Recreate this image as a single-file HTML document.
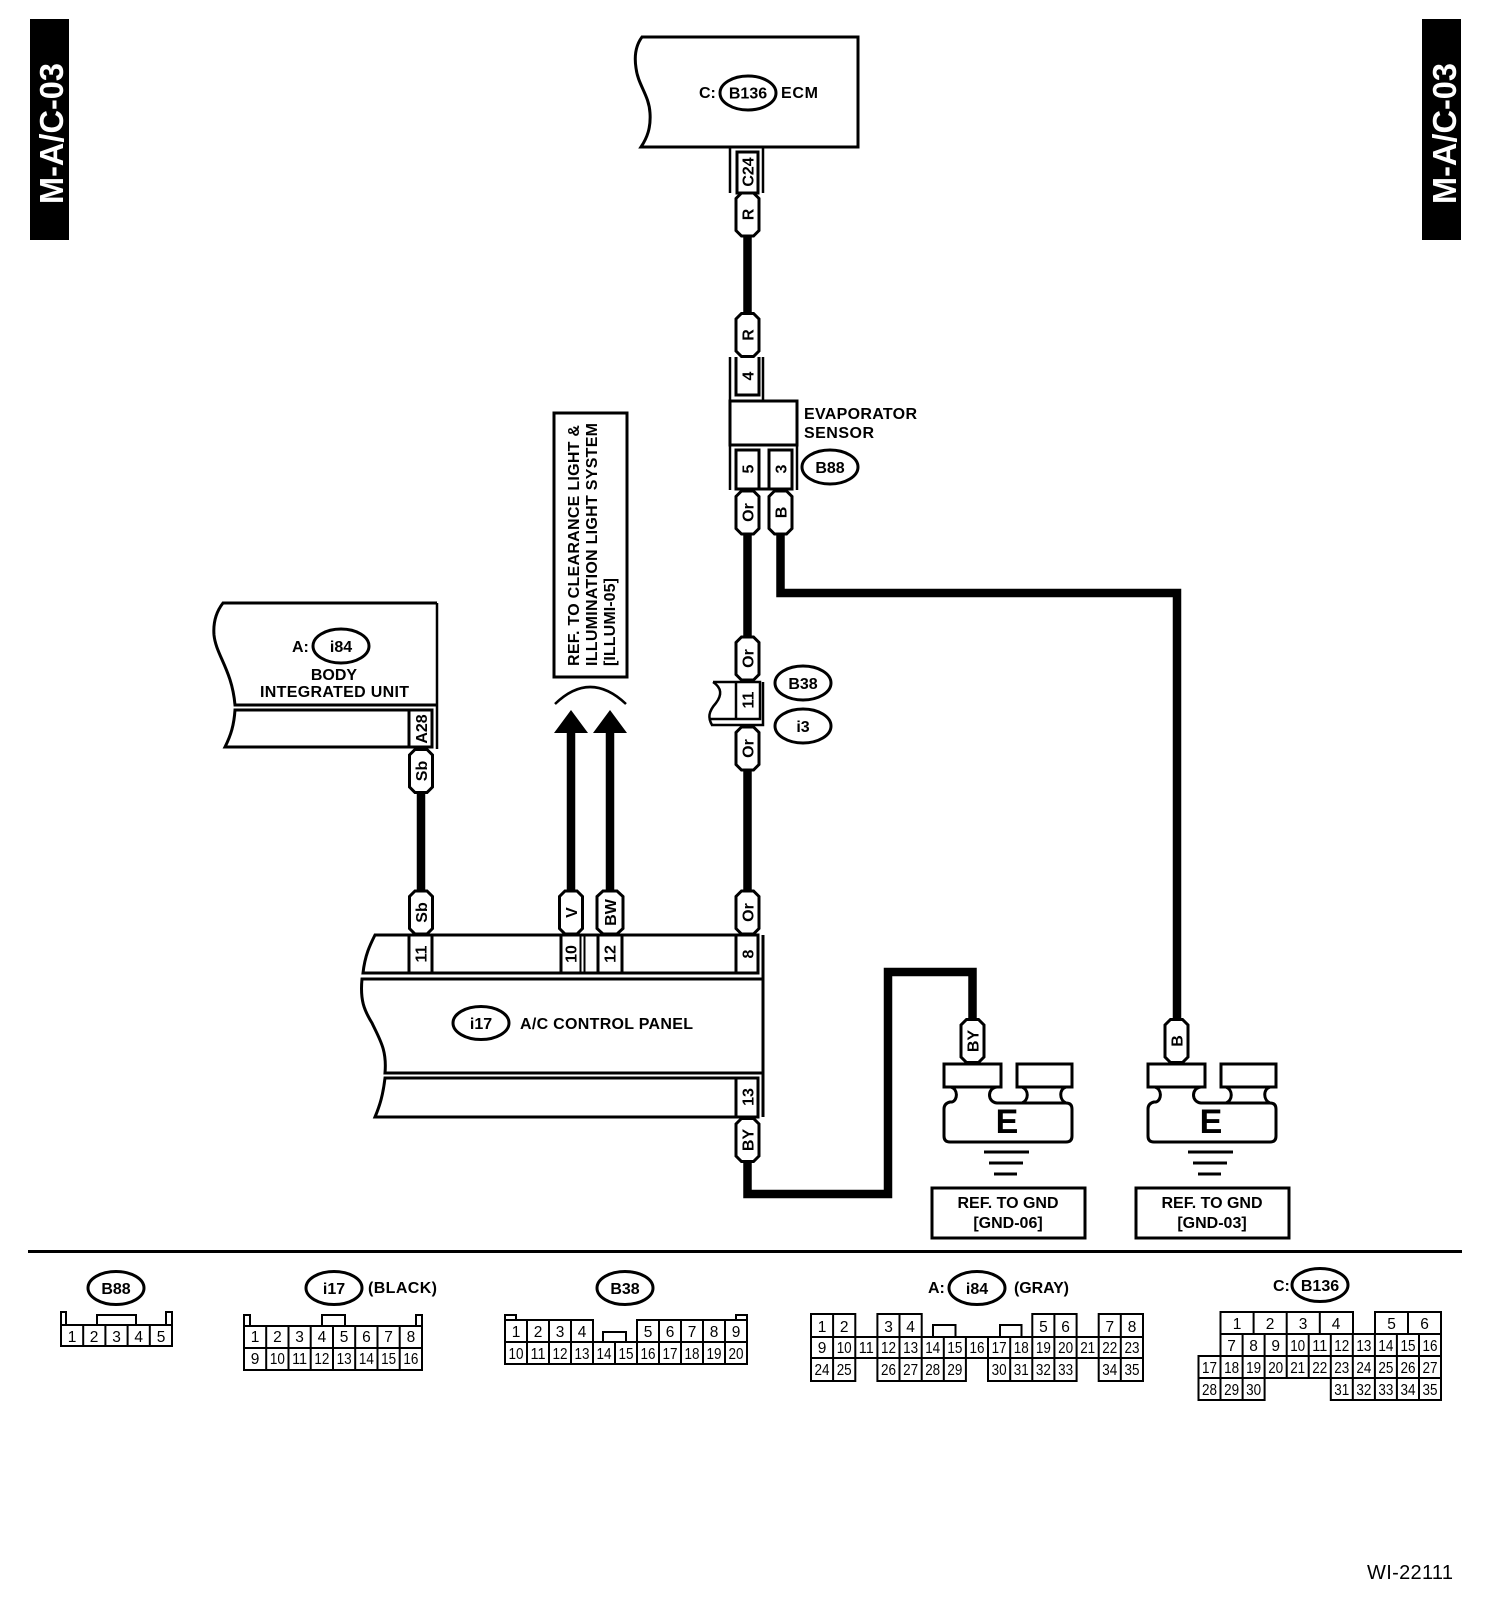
<!DOCTYPE html>
<html><head><meta charset="utf-8"><style>
html,body{margin:0;padding:0;background:#fff}
svg{display:block}
text{font-family:"Liberation Sans",Arial,sans-serif;font-weight:bold;font-size:16px;fill:#000;stroke:none}
.m{text-anchor:middle}
.d text{font-weight:normal;font-size:15.5px;text-anchor:middle}
.s{fill:none;stroke:#000;stroke-width:3}
.t{fill:none;stroke:#000;stroke-width:2.5}
.g{fill:none;stroke:#000;stroke-width:2}
.w{fill:none;stroke:#000;stroke-width:8.5;stroke-linejoin:miter}
.o{fill:#fff;stroke:#000;stroke-width:3}
</style></head><body>
<svg xmlns="http://www.w3.org/2000/svg" width="1504" height="1614" viewBox="0 0 1504 1614">
<rect width="1504" height="1614" fill="#fff"/>
<defs>
<path id="h" d="M-6-21.5H6L11.5-16V16L6 21.5H-6L-11.5 16V-16Z" fill="#fff" stroke="#000" stroke-width="3"/>
<path id="hw" d="M-7-21.5H7L13-16V16L7 21.5H-7L-13 16V-16Z" fill="#fff" stroke="#000" stroke-width="3"/>
<g id="gnd">
<rect x="944" y="1064" width="57" height="23" class="s"/>
<rect x="1017" y="1064" width="55" height="23" class="s"/>
<path class="s" d="M951 1087C958 1089 958 1100 952 1102H950C946 1103 944 1105 944 1109V1136C944 1140 946 1142 950 1142H1066C1070 1142 1072 1140 1072 1136V1109C1072 1105 1070 1103 1066 1103C1059 1100 1059 1089 1066 1087"/>
<path class="s" d="M997 1087C987 1088 987 1102 997 1103H1066M1022 1087C1029 1090 1029 1100 1022 1103"/>
<path class="s" d="M984 1152H1029M989 1163H1023M994 1174H1017"/>
<rect x="932" y="1188" width="153" height="50" class="s"/>
</g>
</defs>

<!-- side bars -->
<rect x="30" y="19" width="39" height="221" fill="#000"/>
<text transform="translate(63,204) rotate(-90)" style="font-size:33px;fill:#fff" textLength="141" lengthAdjust="spacingAndGlyphs">M-A/C-03</text>
<rect x="1422" y="19" width="39" height="221" fill="#000"/>
<text transform="translate(1456,204) rotate(-90)" style="font-size:33px;fill:#fff" textLength="141" lengthAdjust="spacingAndGlyphs">M-A/C-03</text>

<!-- wires -->
<path class="w" d="M747.5 236V314"/>
<path class="w" d="M747.5 534V638"/>
<path class="w" d="M747.5 770V890"/>
<path class="w" d="M780.5 534V593H1177V1020"/>
<path class="w" d="M421 793V890"/>
<path class="w" d="M571 733V890"/>
<path class="w" d="M610 733V890"/>
<path class="w" d="M747.5 1162V1194H888V972H972.5V1020"/>
<path d="M554 733L571 710L588 733ZM593 733L610 710L627 733Z" fill="#000"/>
<path d="M555 704Q590 670 626 704" fill="none" stroke="#000" stroke-width="2.5"/>

<!-- ECM -->
<path class="s" d="M642 37H858V147H641C647 138 651 128 650 113C649 95 638 85 636 68C634 55 636 45 642 37Z"/>
<ellipse cx="748" cy="93" rx="28" ry="17" class="o"/>
<text x="699" y="98">C:</text>
<text x="748" y="98.500" class="m">B136</text>
<text x="781" y="98" textLength="37">ECM</text>
<path class="t" d="M730 147V193M763 147V193"/>
<rect x="737" y="152" width="21" height="41" class="s"/>
<text class="m" transform="translate(753.500,172) rotate(-90)">C24</text>

<!-- evaporator sensor -->
<path class="t" d="M730 357V401M763 357V401"/>
<path class="s" d="M736 357V395H759V357"/>
<text class="m" transform="translate(753.500,376) rotate(-90)">4</text>
<rect x="730" y="401" width="67" height="44" class="s"/>
<path class="t" d="M730 445V490M797 445V490"/>
<path class="s" d="M736 450H759V489H736ZM769 450H792V489H769ZM759 489H769"/>
<text class="m" transform="translate(753.500,469) rotate(-90)">5</text>
<text class="m" transform="translate(786.500,469) rotate(-90)">3</text>
<text x="804" y="419" textLength="113">EVAPORATOR</text>
<text x="804" y="438" textLength="70">SENSOR</text>
<ellipse cx="830" cy="467" rx="28" ry="17" class="o"/>
<text x="830" y="473" class="m">B88</text>

<!-- illumination ref -->
<rect x="554" y="413" width="73" height="264" class="s"/>
<text transform="translate(579,666) rotate(-90)" textLength="241">REF. TO CLEARANCE LIGHT &amp;</text>
<text transform="translate(597,666) rotate(-90)" textLength="243">ILLUMINATION LIGHT SYSTEM</text>
<text transform="translate(615,666) rotate(-90)" textLength="88">[ILLUMI-05]</text>

<!-- B38 / i3 connector -->
<path class="t" d="M713 682H760V719H710M736 682V719M763 682V725H711"/>
<path class="t" d="M713 682C722 688 722 695 716 703C708 712 708 718 712 725"/>
<text class="m" transform="translate(753.500,700) rotate(-90)">11</text>
<ellipse cx="803" cy="683" rx="28" ry="17" class="o"/>
<text x="803" y="689" class="m">B38</text>
<ellipse cx="803" cy="726" rx="28" ry="17" class="o"/>
<text x="803" y="732" class="m">i3</text>

<!-- body integrated unit -->
<path class="s" d="M437 603H223C216 612 213 622 214 635C216 655 232 670 235 705H437"/>
<path class="t" d="M437 603V749"/>
<path class="s" d="M235 710H432V747H225C231 735 234 725 235 710ZM409 710V747"/>
<ellipse cx="341" cy="646" rx="28" ry="17" class="o"/>
<text x="292" y="652">A:</text>
<text x="341" y="652" class="m">i84</text>
<text x="334" y="680" class="m">BODY</text>
<text x="260" y="697" textLength="149">INTEGRATED UNIT</text>
<text class="m" transform="translate(427,729) rotate(-90)">A28</text>

<!-- A/C panel -->
<path class="s" d="M375 935H758V973H363C365 955 370 945 375 935Z"/>
<path class="s" d="M409 935V973M432 935V973M561 935V973M598 935V973M622 935V973M736 935V973"/>
<path class="g" d="M580.500 935V973M584.500 935V973"/>
<path class="s" d="M763 935V1117"/>
<path class="s" d="M763 979H362C360 1000 364 1010 372 1023C380 1040 387 1050 385 1073H763"/>
<path class="s" d="M385 1078H758V1117H375C380 1105 383 1095 385 1078ZM736 1078V1117"/>
<ellipse cx="481" cy="1023" rx="28" ry="16.500" class="o"/>
<text x="481" y="1029" class="m">i17</text>
<text x="520" y="1029" textLength="173">A/C CONTROL PANEL</text>
<text class="m" transform="translate(426.500,954) rotate(-90)">11</text>
<text class="m" transform="translate(576.500,954) rotate(-90)">10</text>
<text class="m" transform="translate(615.500,954) rotate(-90)">12</text>
<text class="m" transform="translate(753.500,954) rotate(-90)">8</text>
<text class="m" transform="translate(753.500,1097) rotate(-90)">13</text>

<!-- hexagon wire labels -->
<use href="#h" x="747.500" y="214.500"/><text class="m" transform="translate(753.500,214.500) rotate(-90)">R</text>
<use href="#h" x="747.500" y="335"/><text class="m" transform="translate(753.500,335) rotate(-90)">R</text>
<use href="#h" x="747.500" y="512.500"/><text class="m" transform="translate(753.500,512.500) rotate(-90)">Or</text>
<use href="#h" x="780.500" y="512.500"/><text class="m" transform="translate(786.500,512.500) rotate(-90)">B</text>
<use href="#h" x="747.500" y="658.500"/><text class="m" transform="translate(753.500,658.500) rotate(-90)">Or</text>
<use href="#h" x="747.500" y="748.500"/><text class="m" transform="translate(753.500,748.500) rotate(-90)">Or</text>
<use href="#h" x="421" y="771"/><text class="m" transform="translate(427,771) rotate(-90)">Sb</text>
<use href="#h" x="421" y="912.500"/><text class="m" transform="translate(427,912.500) rotate(-90)">Sb</text>
<use href="#h" x="571" y="912.500"/><text class="m" transform="translate(577,912.500) rotate(-90)">V</text>
<use href="#hw" x="610" y="912.500"/><text class="m" transform="translate(616,912.500) rotate(-90)">BW</text>
<use href="#h" x="747.500" y="912.500"/><text class="m" transform="translate(753.500,912.500) rotate(-90)">Or</text>
<use href="#h" x="747.500" y="1140"/><text class="m" transform="translate(753.500,1140) rotate(-90)">BY</text>
<use href="#h" x="972.500" y="1041"/><text class="m" transform="translate(978.500,1041) rotate(-90)">BY</text>
<use href="#h" x="1176.500" y="1041"/><text class="m" transform="translate(1182.500,1041) rotate(-90)">B</text>

<!-- grounds -->
<use href="#gnd"/>
<use href="#gnd" x="204"/>
<text x="1007" y="1133" class="m" style="font-size:34px">E</text>
<text x="1211" y="1133" class="m" style="font-size:34px">E</text>
<text x="1008" y="1208" class="m">REF. TO GND</text>
<text x="1008" y="1228" class="m">[GND-06]</text>
<text x="1212" y="1208" class="m">REF. TO GND</text>
<text x="1212" y="1228" class="m">[GND-03]</text>

<!-- separator -->
<rect x="28" y="1250" width="1434" height="3" fill="#000"/>

<!-- connector legends -->
<ellipse cx="116" cy="1288" rx="28" ry="16.500" class="o"/><text x="116" y="1294" class="m">B88</text>
<ellipse cx="334" cy="1288" rx="28" ry="16.500" class="o"/><text x="334" y="1294" class="m">i17</text>
<text x="368" y="1293" textLength="69">(BLACK)</text>
<ellipse cx="625" cy="1288" rx="28" ry="16.500" class="o"/><text x="625" y="1294" class="m">B38</text>
<text x="928" y="1293">A:</text>
<ellipse cx="977" cy="1288" rx="28" ry="16.500" class="o"/><text x="977" y="1294" class="m">i84</text>
<text x="1014" y="1293" textLength="55">(GRAY)</text>
<text x="1273" y="1291">C:</text>
<ellipse cx="1320" cy="1285" rx="28" ry="16.500" class="o"/><text x="1320" y="1291" class="m">B136</text>

<!-- B88 grid -->
<path class="g" d="M61 1325H172V1346H61ZM83.200 1325V1346M105.400 1325V1346M127.600 1325V1346M149.800 1325V1346M61 1325V1312H66V1325M166 1325V1312H172V1325M97 1325V1315H136V1325"/>
<g class="d">
<text x="72" y="1342">1</text><text x="94" y="1342">2</text><text x="116.500" y="1342">3</text><text x="138.700" y="1342">4</text><text x="161" y="1342">5</text>
</g>

<!-- i17 grid -->
<path class="g" d="M244 1326H422V1370H244ZM244 1348H422M266.200 1326V1370M288.500 1326V1370M310.700 1326V1370M333 1326V1370M355.200 1326V1370M377.500 1326V1370M399.700 1326V1370M244 1326V1315H250V1326M416 1326V1315H422V1326M322 1326V1315H345V1326"/>
<g class="d">
<text x="255" y="1342">1</text><text x="277.400" y="1342">2</text><text x="299.600" y="1342">3</text><text x="321.900" y="1342">4</text><text x="344.100" y="1342">5</text><text x="366.400" y="1342">6</text><text x="388.600" y="1342">7</text><text x="410.900" y="1342">8</text>
<text x="255" y="1364">9</text><text x="277.400" y="1364" textLength="15" lengthAdjust="spacingAndGlyphs">10</text><text x="299.600" y="1364" textLength="15" lengthAdjust="spacingAndGlyphs">11</text><text x="321.900" y="1364" textLength="15" lengthAdjust="spacingAndGlyphs">12</text><text x="344.100" y="1364" textLength="15" lengthAdjust="spacingAndGlyphs">13</text><text x="366.400" y="1364" textLength="15" lengthAdjust="spacingAndGlyphs">14</text><text x="388.600" y="1364" textLength="15" lengthAdjust="spacingAndGlyphs">15</text><text x="410.900" y="1364" textLength="15" lengthAdjust="spacingAndGlyphs">16</text>
</g>

<!-- B38 grid -->
<path class="g" d="M505 1342H747V1364H505ZM505 1320H593V1342H505ZM637 1320H747V1342H637ZM527 1320V1364M549 1320V1364M571 1320V1364M593 1342V1364M615 1342V1364M637 1342V1364M659 1320V1364M681 1320V1364M703 1320V1364M725 1320V1364M505 1320V1315H516V1320M736 1320V1315H747V1320M603 1342V1332H626V1342"/>
<g class="d">
<text x="516" y="1337">1</text><text x="538" y="1337">2</text><text x="560" y="1337">3</text><text x="582" y="1337">4</text><text x="648" y="1337">5</text><text x="670" y="1337">6</text><text x="692" y="1337">7</text><text x="714" y="1337">8</text><text x="736" y="1337">9</text>
<text x="516" y="1359" textLength="15" lengthAdjust="spacingAndGlyphs">10</text><text x="538" y="1359" textLength="15" lengthAdjust="spacingAndGlyphs">11</text><text x="560" y="1359" textLength="15" lengthAdjust="spacingAndGlyphs">12</text><text x="582" y="1359" textLength="15" lengthAdjust="spacingAndGlyphs">13</text><text x="604" y="1359" textLength="15" lengthAdjust="spacingAndGlyphs">14</text><text x="626" y="1359" textLength="15" lengthAdjust="spacingAndGlyphs">15</text><text x="648" y="1359" textLength="15" lengthAdjust="spacingAndGlyphs">16</text><text x="670" y="1359" textLength="15" lengthAdjust="spacingAndGlyphs">17</text><text x="692" y="1359" textLength="15" lengthAdjust="spacingAndGlyphs">18</text><text x="714" y="1359" textLength="15" lengthAdjust="spacingAndGlyphs">19</text><text x="736" y="1359" textLength="15" lengthAdjust="spacingAndGlyphs">20</text>
</g>

<!-- i84 grid -->
<path class="g" d="M811 1337H1143V1358H811ZM811 1314H855.300V1337H811ZM833.100 1314V1337M877.400 1314H921.700V1337H877.400ZM899.500 1314V1337M1032.300 1314H1076.600V1337H1032.300ZM1054.400 1314V1337M1098.700 1314H1143V1337H1098.700ZM1120.800 1314V1337"/>
<path class="g" d="M833.100 1337V1358M855.300 1337V1358M877.400 1337V1358M899.500 1337V1358M921.700 1337V1358M943.800 1337V1358M965.900 1337V1358M988 1337V1358M1010.200 1337V1358M1032.300 1337V1358M1054.400 1337V1358M1076.600 1337V1358M1098.700 1337V1358M1120.800 1337V1358"/>
<path class="g" d="M811 1358H855.300V1381H811ZM833.100 1358V1381M877.400 1358H965.900V1381H877.400ZM899.500 1358V1381M921.700 1358V1381M943.800 1358V1381M988 1358H1076.600V1381H988ZM1010.200 1358V1381M1032.300 1358V1381M1054.400 1358V1381M1098.700 1358H1143V1381H1098.700ZM1120.800 1358V1381"/>
<path class="g" d="M933 1337V1325H955.500V1337M1000 1337V1325H1021.500V1337"/>
<g class="d">
<text x="822" y="1332">1</text><text x="844.200" y="1332">2</text><text x="888.500" y="1332">3</text><text x="910.600" y="1332">4</text><text x="1043.400" y="1332">5</text><text x="1065.600" y="1332">6</text><text x="1109.800" y="1332">7</text><text x="1132" y="1332">8</text>
<text x="822" y="1353">9</text><text x="844.200" y="1353" textLength="15" lengthAdjust="spacingAndGlyphs">10</text><text x="866.300" y="1353" textLength="15" lengthAdjust="spacingAndGlyphs">11</text><text x="888.500" y="1353" textLength="15" lengthAdjust="spacingAndGlyphs">12</text><text x="910.600" y="1353" textLength="15" lengthAdjust="spacingAndGlyphs">13</text><text x="932.700" y="1353" textLength="15" lengthAdjust="spacingAndGlyphs">14</text><text x="954.900" y="1353" textLength="15" lengthAdjust="spacingAndGlyphs">15</text><text x="977" y="1353" textLength="15" lengthAdjust="spacingAndGlyphs">16</text><text x="999.100" y="1353" textLength="15" lengthAdjust="spacingAndGlyphs">17</text><text x="1021.300" y="1353" textLength="15" lengthAdjust="spacingAndGlyphs">18</text><text x="1043.400" y="1353" textLength="15" lengthAdjust="spacingAndGlyphs">19</text><text x="1065.600" y="1353" textLength="15" lengthAdjust="spacingAndGlyphs">20</text><text x="1087.700" y="1353" textLength="15" lengthAdjust="spacingAndGlyphs">21</text><text x="1109.800" y="1353" textLength="15" lengthAdjust="spacingAndGlyphs">22</text><text x="1132" y="1353" textLength="15" lengthAdjust="spacingAndGlyphs">23</text>
<text x="822" y="1375" textLength="15" lengthAdjust="spacingAndGlyphs">24</text><text x="844.200" y="1375" textLength="15" lengthAdjust="spacingAndGlyphs">25</text><text x="888.500" y="1375" textLength="15" lengthAdjust="spacingAndGlyphs">26</text><text x="910.600" y="1375" textLength="15" lengthAdjust="spacingAndGlyphs">27</text><text x="932.700" y="1375" textLength="15" lengthAdjust="spacingAndGlyphs">28</text><text x="954.900" y="1375" textLength="15" lengthAdjust="spacingAndGlyphs">29</text><text x="999.100" y="1375" textLength="15" lengthAdjust="spacingAndGlyphs">30</text><text x="1021.300" y="1375" textLength="15" lengthAdjust="spacingAndGlyphs">31</text><text x="1043.400" y="1375" textLength="15" lengthAdjust="spacingAndGlyphs">32</text><text x="1065.600" y="1375" textLength="15" lengthAdjust="spacingAndGlyphs">33</text><text x="1109.800" y="1375" textLength="15" lengthAdjust="spacingAndGlyphs">34</text><text x="1132" y="1375" textLength="15" lengthAdjust="spacingAndGlyphs">35</text>
</g>

<!-- B136 grid -->
<path class="g" d="M1220.500 1312H1353V1334H1220.500ZM1253.600 1312V1334M1286.700 1312V1334M1319.800 1312V1334M1375 1312H1441V1334H1375ZM1408 1312V1334"/>
<path class="g" d="M1220.500 1334H1441V1356H1220.500ZM1242.600 1334V1356M1264.600 1334V1356M1286.700 1334V1356M1308.700 1334V1356M1330.800 1334V1356M1352.800 1334V1356M1374.900 1334V1356M1396.900 1334V1356M1419 1334V1356"/>
<path class="g" d="M1198.500 1356H1441V1378H1198.500ZM1220.500 1356V1378M1242.600 1356V1378M1264.600 1356V1378M1286.700 1356V1378M1308.700 1356V1378M1330.800 1356V1378M1352.800 1356V1378M1374.900 1356V1378M1396.900 1356V1378M1419 1356V1378"/>
<path class="g" d="M1198.500 1378H1264.600V1400H1198.500ZM1220.500 1378V1400M1242.600 1378V1400M1330.800 1378H1441V1400H1330.800ZM1352.800 1378V1400M1374.900 1378V1400M1396.900 1378V1400M1419 1378V1400"/>
<g class="d">
<text x="1237" y="1329">1</text><text x="1270" y="1329">2</text><text x="1303" y="1329">3</text><text x="1336" y="1329">4</text><text x="1391.500" y="1329">5</text><text x="1424.500" y="1329">6</text>
<text x="1231.600" y="1351">7</text><text x="1253.600" y="1351">8</text><text x="1275.700" y="1351">9</text><text x="1297.700" y="1351" textLength="15" lengthAdjust="spacingAndGlyphs">10</text><text x="1319.800" y="1351" textLength="15" lengthAdjust="spacingAndGlyphs">11</text><text x="1341.800" y="1351" textLength="15" lengthAdjust="spacingAndGlyphs">12</text><text x="1363.900" y="1351" textLength="15" lengthAdjust="spacingAndGlyphs">13</text><text x="1385.900" y="1351" textLength="15" lengthAdjust="spacingAndGlyphs">14</text><text x="1408" y="1351" textLength="15" lengthAdjust="spacingAndGlyphs">15</text><text x="1430" y="1351" textLength="15" lengthAdjust="spacingAndGlyphs">16</text>
<text x="1209.500" y="1373" textLength="15" lengthAdjust="spacingAndGlyphs">17</text><text x="1231.600" y="1373" textLength="15" lengthAdjust="spacingAndGlyphs">18</text><text x="1253.600" y="1373" textLength="15" lengthAdjust="spacingAndGlyphs">19</text><text x="1275.700" y="1373" textLength="15" lengthAdjust="spacingAndGlyphs">20</text><text x="1297.700" y="1373" textLength="15" lengthAdjust="spacingAndGlyphs">21</text><text x="1319.800" y="1373" textLength="15" lengthAdjust="spacingAndGlyphs">22</text><text x="1341.800" y="1373" textLength="15" lengthAdjust="spacingAndGlyphs">23</text><text x="1363.900" y="1373" textLength="15" lengthAdjust="spacingAndGlyphs">24</text><text x="1385.900" y="1373" textLength="15" lengthAdjust="spacingAndGlyphs">25</text><text x="1408" y="1373" textLength="15" lengthAdjust="spacingAndGlyphs">26</text><text x="1430" y="1373" textLength="15" lengthAdjust="spacingAndGlyphs">27</text>
<text x="1209.500" y="1395" textLength="15" lengthAdjust="spacingAndGlyphs">28</text><text x="1231.600" y="1395" textLength="15" lengthAdjust="spacingAndGlyphs">29</text><text x="1253.600" y="1395" textLength="15" lengthAdjust="spacingAndGlyphs">30</text><text x="1341.800" y="1395" textLength="15" lengthAdjust="spacingAndGlyphs">31</text><text x="1363.900" y="1395" textLength="15" lengthAdjust="spacingAndGlyphs">32</text><text x="1385.900" y="1395" textLength="15" lengthAdjust="spacingAndGlyphs">33</text><text x="1408" y="1395" textLength="15" lengthAdjust="spacingAndGlyphs">34</text><text x="1430" y="1395" textLength="15" lengthAdjust="spacingAndGlyphs">35</text>
</g>

<text x="1367" y="1579" style="font-weight:normal;font-size:20px" textLength="86">WI-22111</text>
</svg>
</body></html>
